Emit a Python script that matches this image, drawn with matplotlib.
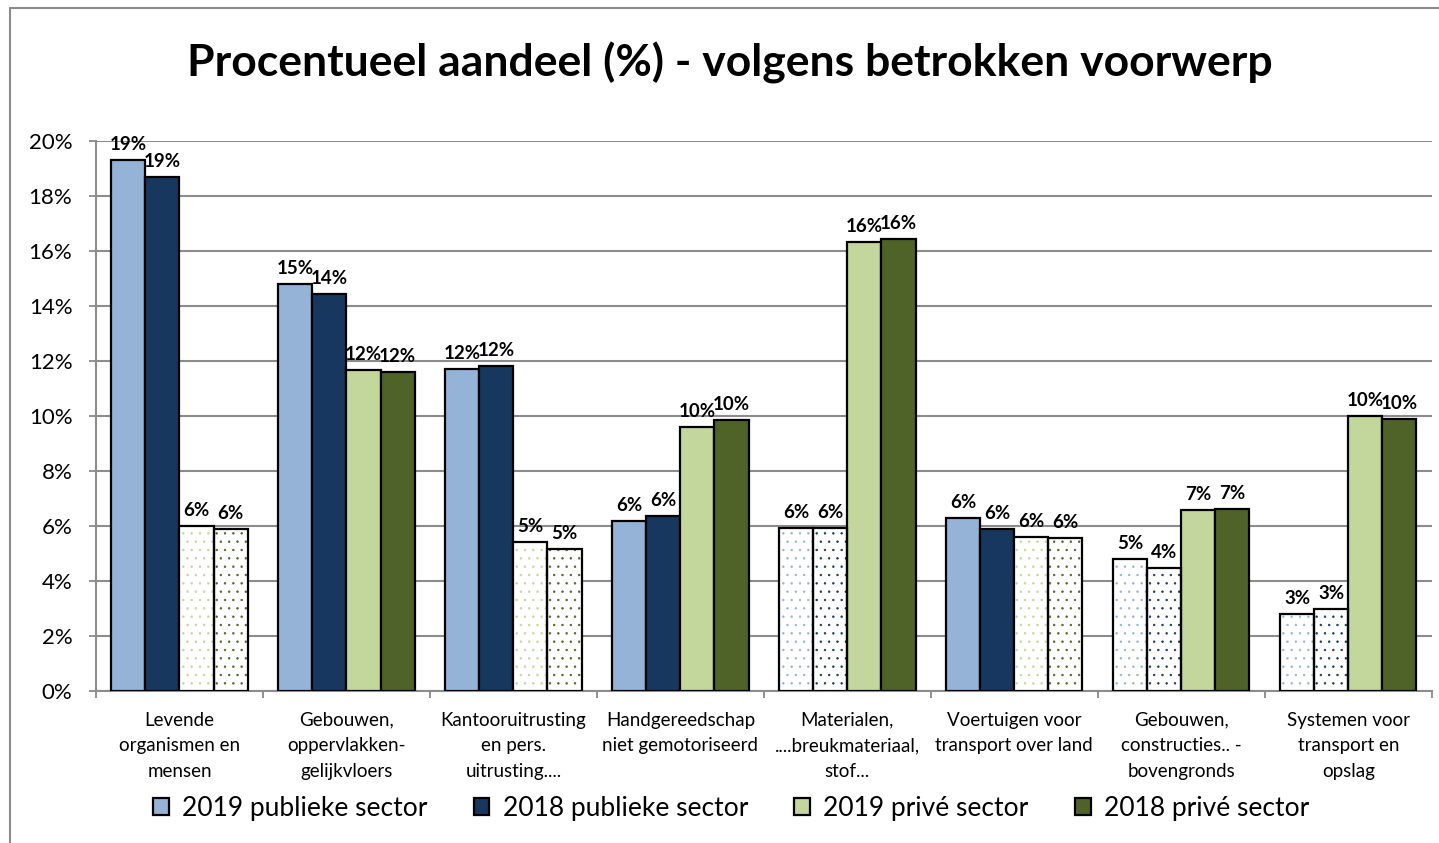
import matplotlib.pyplot as plt
import numpy as np
from matplotlib.patches import Rectangle

# data
categories = ['Levende\norganismen en\nmensen',
              'Gebouwen,\noppervlakken-\ngelijkvloers',
              'Kantooruitrusting\nen pers.\nuitrusting....',
              'Handgereedschap\nniet gemotoriseerd',
              'Materialen,\n....breukmateriaal,\nstof...',
              'Voertuigen voor\ntransport over land',
              'Gebouwen,\nconstructies.. -\nbovengronds',
              'Systemen voor\ntransport en\nopslag']
pub_2019 = [19.3, 14.8, 11.7, 6.2, 5.92, 6.3, 4.8, 2.8]
pub_2018 = [18.7, 14.45, 11.83, 6.35, 5.93, 5.9, 4.48, 3.0]
priv_2019 = [6.0, 11.68, 5.41, 9.6, 16.33, 5.6, 6.58, 10.0]
priv_2018 = [5.88, 11.6, 5.15, 9.87, 16.45, 5.55, 6.63, 9.9]
# bars drawn as dotted (white with coloured dots) in the reference
pub_dotted = [False, False, False, False, True, False, True, True]
priv_dotted = [True, False, True, False, False, True, False, False]

series = [
    ('2019 publieke sector', pub_2019, '#95B3D7', pub_dotted),
    ('2018 publieke sector', pub_2018, '#17375E', pub_dotted),
    ('2019 privé sector', priv_2019, '#C3D69B', priv_dotted),
    ('2018 privé sector', priv_2018, '#4F6228', priv_dotted),
]

plt.rcParams['font.family'] = ['Lato', 'DejaVu Sans']
plt.rcParams['hatch.linewidth'] = 0.5

fig = plt.figure(figsize=(14.39, 8.43), dpi=100)
ax = fig.add_axes([0.0667, 0.1803, 0.9283, 0.6524])

idx = np.arange(len(categories))
w = 0.204

for k, (name, vals, col, dotted) in enumerate(series):
    x = idx + (k - 1.5) * w
    vals = np.array(vals)
    dotted = np.array(dotted)
    # solid bars
    ax.bar(x[~dotted], vals[~dotted], w, color=col, edgecolor='black',
           linewidth=1.6, zorder=3, label=name)
    # dotted bars: hatch layer in series colour, then black outline
    ax.bar(x[dotted], vals[dotted], w, facecolor='white', edgecolor=col,
           hatch='..', linewidth=0, zorder=3)
    ax.bar(x[dotted], vals[dotted], w, fill=False, edgecolor='black',
           linewidth=1.6, zorder=4)
    for xi, v in zip(x, vals):
        ax.annotate(f'{v:.0f}%', (xi, v), xytext=(0, 5), textcoords='offset points',
                    ha='center', va='bottom', fontsize=13.5, fontweight='bold', zorder=5)

ax.set_xlim(-0.5, len(categories) - 0.5)
ax.set_ylim(0, 20)
ax.set_yticks(np.arange(0, 21, 2))
ax.set_yticklabels([f'{t}%' for t in range(0, 21, 2)], fontsize=16)
ax.set_xticks(idx)
ax.set_xticklabels(categories, fontsize=13.5, linespacing=1.6)
ax.tick_params(axis='x', length=0, pad=15)
ax.set_xticks(np.arange(-0.5, len(categories), 1), minor=True)
ax.tick_params(axis='x', which='minor', length=5, color='#808080', width=1.2)
ax.tick_params(axis='y', length=5, color='#808080', width=1.2, pad=12)

ax.grid(axis='y', color='#8c8c8c', linewidth=1.5, zorder=0)
for s in ['top', 'right']:
    ax.spines[s].set_visible(False)
for s in ['left', 'bottom']:
    ax.spines[s].set_color('#8c8c8c')
    ax.spines[s].set_linewidth(1.5)

fig.suptitle('Procentueel aandeel (%) - volgens betrokken voorwerp',
             x=0.507, y=0.95, fontsize=32, fontweight='bold')

leg = fig.legend(loc='center', bbox_to_anchor=(0.508, 0.041), ncol=4, frameon=False,
                 fontsize=19, handlelength=0.6, handleheight=0.6,
                 handletextpad=0.5, columnspacing=1.75)

# outer chart border (only left and top visible in the reference)
fig.add_artist(Rectangle((10 / 1439, -0.1), 1.2, 1.1 - 8 / 843, transform=fig.transFigure,
                         fill=False, edgecolor='#8c8c8c', linewidth=1.5))

fig.savefig('out.png', dpi=100)
